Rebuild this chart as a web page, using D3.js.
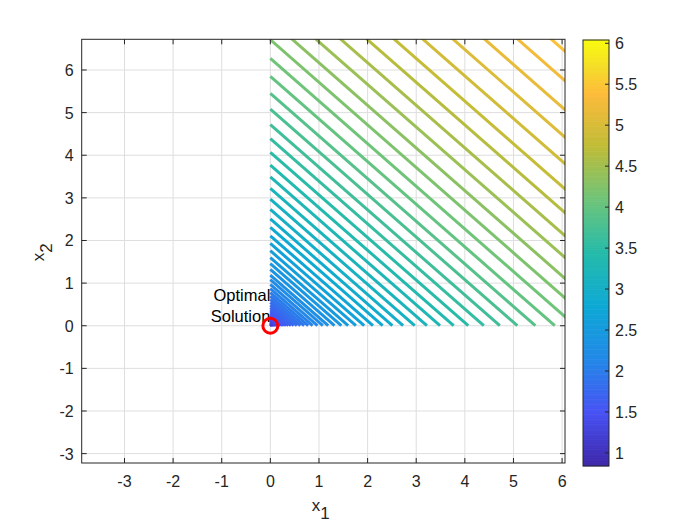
<!DOCTYPE html>
<html><head><meta charset="utf-8">
<script src="https://cdn.jsdelivr.net/npm/d3@7"></script>
<style>
body{margin:0;background:#fff}
svg{display:block}
text{font-family:"Liberation Sans",Arial,Helvetica,sans-serif}
</style>
</head><body>
<svg id="c" width="700" height="525"></svg>
<script>
// ---------- data ----------
const xTicks = [-3, -2, -1, 0, 1, 2, 3, 4, 5, 6];
const yTicks = [-3, -2, -1, 0, 1, 2, 3, 4, 5, 6];
const cbTicks = [1, 1.5, 2, 2.5, 3, 3.5, 4, 4.5, 5, 5.5, 6];
// contour lines x1 + x2 = intercept, coloured by level value
const intercepts = [12.50, 11.81, 11.13, 10.48, 9.86, 9.27, 8.71, 8.17, 7.66, 7.17,
  6.71, 6.27, 5.85, 5.45, 5.08, 4.72, 4.39, 4.07, 3.77, 3.49,
  3.22, 2.97, 2.73, 2.51, 2.31, 2.11, 1.93, 1.76, 1.60, 1.46,
  1.32, 1.19, 1.08, 0.969, 0.869, 0.778, 0.694, 0.617, 0.546, 0.482,
  0.424, 0.372, 0.324, 0.281, 0.243, 0.209, 0.178, 0.151, 0.127, 0.107,
  0.089, 0.073, 0.059, 0.048, 0.038, 0.030];
const levels = [5.43, 5.30, 5.17, 5.04, 4.92, 4.80, 4.67, 4.55, 4.44, 4.32,
  4.21, 4.10, 3.99, 3.88, 3.77, 3.67, 3.57, 3.47, 3.37, 3.28,
  3.18, 3.09, 3.00, 2.91, 2.83, 2.74, 2.66, 2.58, 2.50, 2.43,
  2.35, 2.27, 2.21, 2.14, 2.07, 2.00, 1.94, 1.88, 1.82, 1.76,
  1.71, 1.65, 1.60, 1.55, 1.50, 1.46, 1.41, 1.37, 1.33, 1.29,
  1.25, 1.22, 1.18, 1.15, 1.12, 1.09];
const optimum = [0, 0];
const optimumLabel = ["Optimal", "Solution"];
const xDomain = [-3.88, 6.06];
const yDomain = [-3.22, 6.72];
const cDomain = [0.84, 6.04];

// ---------- colormap (parula) ----------
const parulaStops = ["#3e26a8", "#4852f4", "#2388e8", "#0da9d5", "#25bbaa",
  "#6ec47a", "#bfbc37", "#fdbb3a", "#f5dd28", "#f9fb0e"];
const parulaPos = [0, 0.125, 0.25, 0.375, 0.5, 0.625, 0.75, 0.875, 0.9375, 1];
const parula = d3.scaleLinear().domain(parulaPos).range(parulaStops)
  .interpolate(d3.interpolateRgb).clamp(true);
const cNorm = d3.scaleLinear().domain(cDomain).range([0, 1]).clamp(true);
const colorOf = v => parula(cNorm(v));

// ---------- layout ----------
const svg = d3.select("#c");
const L = 81.7, R = 565, T = 39.3, B = 463;
const x = d3.scaleLinear().domain(xDomain).range([L, R]);
const y = d3.scaleLinear().domain(yDomain).range([B, T]);
const axisCol = "#262626";
const tickLen = 5;
const fs = 16;

svg.append("rect").attr("width", 700).attr("height", 525).attr("fill", "#fff");
svg.append("defs").append("clipPath").attr("id", "clip")
  .append("rect").attr("x", L).attr("y", T).attr("width", R - L).attr("height", B - T);

// grid
const g = svg.append("g");
g.selectAll("line.gx").data(xTicks).join("line")
  .attr("x1", d => x(d)).attr("x2", d => x(d)).attr("y1", T).attr("y2", B)
  .attr("stroke", "#dedede").attr("stroke-width", 1);
g.selectAll("line.gy").data(yTicks).join("line")
  .attr("y1", d => y(d)).attr("y2", d => y(d)).attr("x1", L).attr("x2", R)
  .attr("stroke", "#dedede").attr("stroke-width", 1);

// contour lines
const line = d3.line().x(d => x(d[0])).y(d => y(d[1]));
const cl = svg.append("g").attr("clip-path", "url(#clip)");
const pairs = intercepts.map((s, i) => ({s, v: levels[i]}))
  .sort((a, b) => a.v - b.v);
cl.selectAll("path").data(pairs).join("path")
  .attr("d", d => line([[d.s, 0], [0, d.s]]))
  .attr("fill", "none")
  .attr("stroke", d => colorOf(d.v))
  .attr("stroke-width", 3);

// optimal solution label & marker
const lab = svg.append("text").attr("text-anchor", "end").attr("font-size", 16.5).attr("fill", "#000");
lab.append("tspan").attr("x", x(optimum[0])).attr("y", y(optimum[1]) - 25).text(optimumLabel[0]);
lab.append("tspan").attr("x", x(optimum[0])).attr("y", y(optimum[1]) - 4).text(optimumLabel[1]);
svg.append("circle").attr("cx", x(optimum[0])).attr("cy", y(optimum[1])).attr("r", 7.5)
  .attr("fill", "none").attr("stroke", "#ff0000").attr("stroke-width", 3);

// axes box + ticks
const ax = svg.append("g");
ax.append("rect").attr("x", L).attr("y", T).attr("width", R - L).attr("height", B - T)
  .attr("fill", "none").attr("stroke", axisCol).attr("stroke-width", 1);
xTicks.forEach(t => {
  ax.append("line").attr("x1", x(t)).attr("x2", x(t)).attr("y1", B).attr("y2", B - tickLen).attr("stroke", axisCol);
  ax.append("line").attr("x1", x(t)).attr("x2", x(t)).attr("y1", T).attr("y2", T + tickLen).attr("stroke", axisCol);
});
yTicks.forEach(t => {
  ax.append("line").attr("y1", y(t)).attr("y2", y(t)).attr("x1", L).attr("x2", L + tickLen).attr("stroke", axisCol);
  ax.append("line").attr("y1", y(t)).attr("y2", y(t)).attr("x1", R).attr("x2", R - tickLen).attr("stroke", axisCol);
});
ax.selectAll("text.xt").data(xTicks).join("text")
  .attr("x", d => x(d)).attr("y", B + 24).attr("text-anchor", "middle")
  .attr("font-size", fs).attr("fill", axisCol).text(d => d);
ax.selectAll("text.yt").data(yTicks).join("text")
  .attr("x", L - 8).attr("y", d => y(d) + 6).attr("text-anchor", "end")
  .attr("font-size", fs).attr("fill", axisCol).text(d => d);

// axis labels
const xl = svg.append("text").attr("x", (x(1) + x(0)) / 2 + 26).attr("y", 511).attr("text-anchor", "middle")
  .attr("font-size", 17).attr("fill", axisCol);
xl.append("tspan").text("x");
xl.append("tspan").attr("dy", 8).text("1");
const yl = svg.append("text").attr("transform", `translate(44,${(y(2) + y(3)) / 2 + 33}) rotate(-90)`)
  .attr("text-anchor", "middle").attr("font-size", 17).attr("fill", axisCol);
yl.append("tspan").text("x");
yl.append("tspan").attr("dy", 8).text("2");

// colorbar
const CL = 583, CR = 609, CT = 40, CB = 466;
const cy = d3.scaleLinear().domain(cDomain).range([CB, CT]);
const cbG = svg.append("g");
const nSteps = 256;
const stepVals = d3.range(nSteps).map(i => cDomain[0] + (cDomain[1] - cDomain[0]) * (i + 0.5) / nSteps);
const dv = (cDomain[1] - cDomain[0]) / nSteps;
cbG.selectAll("rect").data(stepVals).join("rect")
  .attr("x", CL).attr("width", CR - CL)
  .attr("y", d => cy(d + dv / 2) - 0.3)
  .attr("height", d => cy(d - dv / 2) - cy(d + dv / 2) + 0.6)
  .attr("fill", d => colorOf(d));
cbG.append("rect").attr("x", CL).attr("y", CT).attr("width", CR - CL).attr("height", CB - CT)
  .attr("fill", "none").attr("stroke", axisCol).attr("stroke-width", 1);
cbTicks.forEach(t => {
  cbG.append("line").attr("x1", CR).attr("x2", CR - 4).attr("y1", cy(t)).attr("y2", cy(t)).attr("stroke", axisCol);
});
cbG.selectAll("text").data(cbTicks).join("text")
  .attr("x", CR + 6).attr("y", d => cy(d) + 6).attr("font-size", fs).attr("fill", axisCol)
  .text(d => d);
</script>
</body></html>
